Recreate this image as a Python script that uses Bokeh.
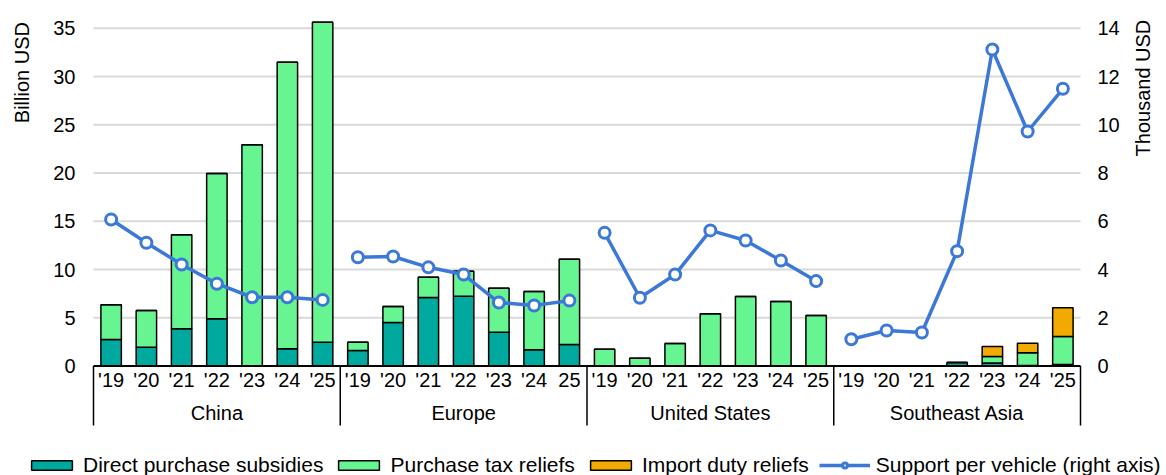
import math
from bokeh.plotting import figure
from bokeh.models import (ColumnDataSource, FactorRange, Range1d, LinearAxis, FixedTicker,
                          Legend, LegendItem, Label)
from bokeh.core.properties import value
from bokeh.embed import file_html
from bokeh.resources import INLINE

# ---------------- data ----------------
regions = ["China", "Europe", "United States", "Southeast Asia"]
years_china = ["'19", "'20", "'21", "'22", "'23", "'24", "'25"]
years_europe = ["'19", "'20", "'21", "'22", "'23", "'24", "25"]
years_us = ["'19", "'20", "'21", "'22", "'23", "'24", "'25"]
years_sea = ["'19", "'20", "'21", "'22", "'23", "'24", "'25"]

direct_china = [2.75, 1.95, 3.85, 4.89, 0.0, 1.78, 2.47]
tax_china = [3.59, 3.80, 9.75, 15.06, 22.92, 29.70, 33.16]
import_china = [0, 0, 0, 0, 0, 0, 0]
pv_china = [6.07, 5.11, 4.21, 3.41, 2.85, 2.85, 2.74]

direct_europe = [1.61, 4.51, 7.10, 7.23, 3.50, 1.68, 2.23]
tax_europe = [0.86, 1.66, 2.10, 2.59, 4.56, 6.04, 8.84]
import_europe = [0, 0, 0, 0, 0, 0, 0]
pv_europe = [4.51, 4.54, 4.09, 3.79, 2.63, 2.51, 2.71]

direct_us = [0, 0, 0, 0, 0, 0, 0]
tax_us = [1.74, 0.81, 2.33, 5.41, 7.20, 6.68, 5.23]
import_us = [0, 0, 0, 0, 0, 0, 0]
pv_us = [5.52, 2.83, 3.79, 5.62, 5.20, 4.37, 3.52]

direct_sea = [0.02, 0.02, 0.03, 0.35, 0.30, 0.05, 0.15]
tax_sea = [0, 0, 0, 0, 0.68, 1.32, 2.91]
import_sea = [0, 0, 0, 0, 1.04, 0.99, 2.97]
pv_sea = [1.11, 1.47, 1.39, 4.76, 13.12, 9.72, 11.49]

left_ticks = [0, 5, 10, 15, 20, 25, 30, 35]
right_ticks = [0, 2, 4, 6, 8, 10, 12, 14]

series_names = ["Direct purchase subsidies", "Purchase tax reliefs",
                "Import duty reliefs", "Support per vehicle (right axis)"]
left_title = "Billion USD"
right_title = "Thousand USD"

# ---------------- build ----------------
years_by_region = [years_china, years_europe, years_us, years_sea]
direct_all = [direct_china, direct_europe, direct_us, direct_sea]
tax_all = [tax_china, tax_europe, tax_us, tax_sea]
import_all = [import_china, import_europe, import_us, import_sea]
pv_all = [pv_china, pv_europe, pv_us, pv_sea]

factors = [(r, y) for r, ys in zip(regions, years_by_region) for y in ys]
n_cat = len(factors)
src = ColumnDataSource(dict(
    x=factors,
    direct=[v for arr in direct_all for v in arr],
    tax=[v for arr in tax_all for v in arr],
    imp=[v for arr in import_all for v in arr],
))

TEAL = "#00A99D"
GREEN = "#66F591"
ORANGE = "#F2A900"
BLUE = "#3C78D8"
GRID = "#D9D9D9"
FONT = "Liberation Sans"

# layout geometry (pixels)
W, H, SHIFT = 1159, 475, 7
CAT_PX = 35.25          # width of one category
SIDE_PAD = 86           # frame space left/right of the categories
ZERO_PX, UNIT_PX = 365.5, 9.65
Y1 = ZERO_PX / UNIT_PX
Y0 = -(H - ZERO_PX) / UNIT_PX
RATIO = 2.5

p = figure(width=W, height=H,
           x_range=FactorRange(*factors, factor_padding=0, group_padding=0,
                               subgroup_padding=0,
                               range_padding=SIDE_PAD / CAT_PX,
                               range_padding_units="absolute"),
           y_range=Range1d(Y0, Y1),
           x_axis_location=None,
           output_backend="svg", toolbar_location=None,
           min_border_left=0, min_border_right=0, min_border_top=0, min_border_bottom=0)
p.margin = (0, 0, 0, SHIFT)
p.outline_line_color = None
p.background_fill_color = "white"
p.grid.visible = False
p.extra_y_ranges = {"right": Range1d(Y0 / RATIO, Y1 / RATIO)}

lax = p.yaxis[0]
lax.ticker = FixedTicker(ticks=left_ticks)
lax.fixed_location = 0
rax = LinearAxis(y_range_name="right", ticker=FixedTicker(ticks=right_ticks),
                 fixed_location=n_cat)
p.add_layout(rax, "right")
for ax, so in ((lax, 18), (rax, 17)):
    ax.axis_line_color = None
    ax.major_tick_line_color = None
    ax.minor_tick_line_color = None
    ax.major_tick_out = 0
    ax.major_tick_in = 0
    ax.major_label_standoff = so
    ax.major_label_text_font = FONT
    ax.major_label_text_font_size = "20px"
    ax.major_label_text_color = "black"

# horizontal gridlines across the category area
grid_ticks = left_ticks[1:]
p.segment(x0=[0] * len(grid_ticks), x1=[n_cat] * len(grid_ticks), y0=grid_ticks, y1=grid_ticks,
          line_color=GRID, line_width=2)

bar_colors = [TEAL, GREEN, ORANGE]
bars = p.vbar_stack(["direct", "tax", "imp"], x="x", width=0.58, source=src,
                    fill_color=bar_colors, line_color="black", line_width=1.5)

# baseline
p.segment(x0=[0], x1=[n_cat], y0=[0], y1=[0], line_color="black", line_width=2)

line_r = None
dot_r = None
for r, ys, pv in zip(regions, years_by_region, pv_all):
    s = ColumnDataSource(dict(x=[(r, y) for y in ys], y=pv))
    lr = p.line("x", "y", source=s, y_range_name="right", line_color=BLUE, line_width=3.5)
    dr = p.scatter("x", "y", source=s, y_range_name="right", marker="circle", size=11,
                   fill_color="white", line_color=BLUE, line_width=3)
    if line_r is None:
        line_r, dot_r = lr, dr

# category labels
p.text(x=factors, y=[-1.5] * n_cat, text=[f[1] for f in factors],
       text_align="center", text_baseline="middle",
       text_font=value(FONT), text_font_size=value("20px"), text_color="black")
p.text(x=regions, y=[-4.92] * len(regions), text=regions,
       text_align="center", text_baseline="middle",
       text_font=value(FONT), text_font_size=value("20px"), text_color="black")

# group separators
bounds = [0]
for ys in years_by_region:
    bounds.append(bounds[-1] + len(ys))
p.segment(x0=bounds, y0=[0] * len(bounds), x1=bounds, y1=[-6.17] * len(bounds),
          line_color="black", line_width=1.5)

# axis titles
p.add_layout(Label(x=21 - SHIFT, y=30.4, x_units="screen", y_units="data", text=left_title,
                   angle=math.pi / 2, text_align="center", text_baseline="middle",
                   text_font=FONT, text_font_size="20px", text_color="black"))
p.add_layout(Label(x=1142 - SHIFT, y=28.8, x_units="screen", y_units="data", text=right_title,
                   angle=math.pi / 2, text_align="center", text_baseline="middle",
                   text_font=FONT, text_font_size="20px", text_color="black"))

legend = Legend(items=[
    LegendItem(label=series_names[0], renderers=[bars[0]]),
    LegendItem(label=series_names[1], renderers=[bars[1]]),
    LegendItem(label=series_names[2], renderers=[bars[2]]),
    LegendItem(label=series_names[3], renderers=[line_r, dot_r]),
], orientation="horizontal", location=(26 - SHIFT, -2), glyph_width=51, glyph_height=12,
    label_standoff=6, spacing=10, padding=0, margin=0, border_line_color=None,
    background_fill_alpha=0, label_text_font=FONT, label_text_font_size="21px",
    label_text_color="black")
p.add_layout(legend)

open("out.html", "w").write(file_html(p, INLINE))
